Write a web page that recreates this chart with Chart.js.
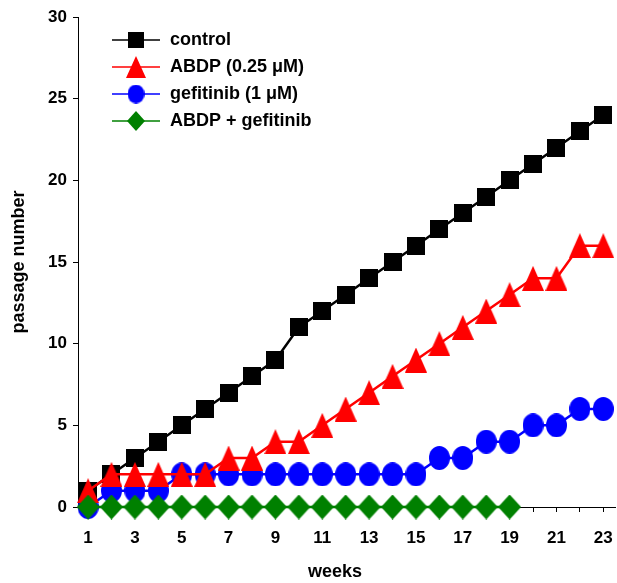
<!DOCTYPE html>
<html><head><meta charset="utf-8">
<script src="https://cdn.jsdelivr.net/npm/chart.js@4"></script>
<style>html,body{margin:0;padding:0;background:#fff}</style>
</head><body>
<canvas id="c" width="617" height="583" style="width:617px;height:583px;display:block"></canvas>
<script>
const weeks = [1,2,3,4,5,6,7,8,9,10,11,12,13,14,15,16,17,18,19,20,21,22,23];
const seriesNames = ['control','ABDP (0.25 \u03bcM)','gefitinib (1 \u03bcM)','ABDP + gefitinib'];
const control   = [1,2,3,4,5,6,7,8,9,11,12,13,14,15,16,17,18,19,20,21,22,23,24];
const abdp      = [1,2,2,2,2,2,3,3,4,4,5,6,7,8,9,10,11,12,13,14,14,16,16];
const gefitinib = [0,1,1,1,2,2,2,2,2,2,2,2,2,2,2,3,3,4,4,5,5,6,6];
const combo     = [0,0,0,0,0,0,0,0,0,0,0,0,0,0,0,0,0,0,0];
const yTicks = [0,5,10,15,20,25,30];
const xTitle = 'weeks';
const yTitle = 'passage number';

const FONT = '"Liberation Sans", Arial, Helvetica, sans-serif';

function marker(shape, color, w, h) {
  const c = document.createElement('canvas');
  c.width = w; c.height = h;
  const g = c.getContext('2d');
  g.fillStyle = color;
  g.beginPath();
  if (shape === 'square') { g.rect(0, 0, w, h); }
  else if (shape === 'triangle') { g.moveTo(w/2, 0); g.lineTo(w, h); g.lineTo(0, h); g.closePath(); }
  else if (shape === 'ellipse') { g.ellipse(w/2, h/2, w/2, h/2, 0, 0, Math.PI*2); }
  else if (shape === 'diamond') { g.moveTo(w/2, 0); g.lineTo(w, h/2); g.lineTo(w/2, h); g.lineTo(0, h/2); g.closePath(); }
  g.fill();
  return c;
}

const colors = ['#000000', '#ff0000', '#0000ff', '#008000'];
const shapes = ['square', 'triangle', 'ellipse', 'diamond'];
const sizes = [[18,18],[22,25],[21,24],[23,25]];
const lsizes = [[16,16],[20,22],[17,19],[18,20]];
const pts = shapes.map((s,i)=>marker(s, colors[i], sizes[i][0], sizes[i][1]));
const lpts = shapes.map((s,i)=>marker(s, colors[i], lsizes[i][0], lsizes[i][1]));

function toXY(vals) { return vals.map((v,i)=>({x: weeks[i], y: v})); }

const seriesVals = [control, abdp, gefitinib, combo];
const orders = [4, 2, 3, 1];

const datasets = seriesVals.map((vals,i)=>({
  label: seriesNames[i],
  data: toXY(vals),
  borderColor: colors[i],
  backgroundColor: colors[i],
  borderWidth: 2.5,
  pointStyle: pts[i],
  pointRadius: 12,
  pointHoverRadius: 12,
  tension: 0,
  clip: false,
  order: orders[i]
}));

const legendPlugin = {
  id: 'insideLegend',
  afterDraw(chart) {
    const ctx = chart.ctx;
    const rows = [40, 67, 94, 121];
    ctx.save();
    chart.data.datasets.forEach((ds, i) => {
      const y = rows[i];
      ctx.strokeStyle = ds.borderColor;
      ctx.lineWidth = 1.5;
      ctx.beginPath(); ctx.moveTo(112, y); ctx.lineTo(160, y); ctx.stroke();
      const m = lpts[i];
      ctx.drawImage(m, 136 - m.width/2, y - m.height/2);
      ctx.fillStyle = '#000';
      ctx.font = 'bold 18px ' + FONT;
      ctx.textBaseline = 'middle';
      ctx.textAlign = 'left';
      ctx.fillText(ds.label, 170, y);
    });
    // x-axis title, placed slightly left of centre as in the original
    ctx.font = 'bold 18px ' + FONT;
    ctx.textAlign = 'center';
    ctx.textBaseline = 'middle';
    ctx.fillText(xTitle, 335, 572);
    ctx.restore();
  }
};

new Chart(document.getElementById('c'), {
  type: 'line',
  data: { datasets },
  plugins: [legendPlugin],
  options: {
    responsive: false,
    devicePixelRatio: 1,
    animation: false,
    events: [],
    layout: { autoPadding: false, padding: { top: 17, right: 2, left: 0, bottom: 0 } },
    plugins: { legend: { display: false }, tooltip: { enabled: false } },
    scales: {
      x: {
        type: 'linear', min: 0.57, max: 23.5,
        afterBuildTicks: s => { s.ticks = weeks.map(v => ({ value: v })); },
        afterFit: s => { s.height = 76; s.paddingLeft = 0; s.paddingRight = 0; },
        ticks: {
          autoSkip: false, maxRotation: 0,
          callback: v => (v % 2 === 1 ? String(v) : ''),
          color: '#000', font: { family: FONT, size: 17, weight: 'bold' }, padding: 16
        },
        grid: { display: true, drawOnChartArea: false, drawTicks: true, tickLength: 5, color: '#000', lineWidth: 1 },
        border: { display: true, color: '#000', width: 1 },
        title: { display: false }
      },
      y: {
        type: 'linear', min: 0, max: 30,
        afterBuildTicks: s => { s.ticks = yTicks.map(v => ({ value: v })); },
        afterFit: s => { s.width = 78; s.paddingTop = 0; s.paddingBottom = 0; },
        ticks: { color: '#000', font: { family: FONT, size: 17, weight: 'bold' }, padding: 6 },
        grid: { display: true, drawOnChartArea: false, drawTicks: true, tickLength: 5, color: '#000', lineWidth: 1 },
        border: { display: true, color: '#000', width: 1 },
        title: { display: true, text: yTitle, color: '#000', font: { family: FONT, size: 18, weight: 'bold' }, padding: { top: 8, bottom: 0 } }
      }
    }
  }
});
</script>
</body></html>
